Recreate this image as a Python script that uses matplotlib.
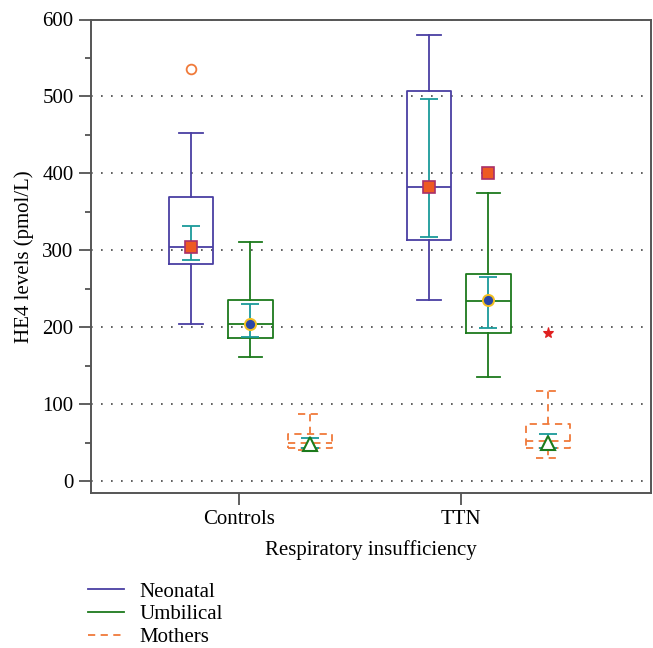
import matplotlib
matplotlib.use("Agg")
import matplotlib.pyplot as plt
from matplotlib.lines import Line2D

plt.rcParams['font.family'] = ['Liberation Serif', 'DejaVu Serif']
plt.rcParams['font.size'] = 15

groups = ["Controls", "TTN"]
series = ["Neonatal", "Umbilical", "Mothers"]

# Neonatal
neo_whislo = [204, 236]
neo_q1 = [283, 314]
neo_med = [304, 383]
neo_q3 = [370, 507]
neo_whishi = [452, 580]
neo_mean = [305, 383]
neo_ci_lo = [287, 318]
neo_ci_hi = [332, 497]
neo_fliers = [[536], []]

# Umbilical
umb_whislo = [162, 136]
umb_q1 = [186, 193]
umb_med = [204, 235]
umb_q3 = [236, 270]
umb_whishi = [311, 375]
umb_mean = [204, 236]
umb_ci_lo = [188, 199]
umb_ci_hi = [230, 266]
umb_fliers = [[], [400]]

# Mothers
mot_whislo = [41, 30]
mot_q1 = [44, 43]
mot_med = [50, 52]
mot_q3 = [61, 74]
mot_whishi = [87, 117]
mot_mean = [48, 50]
mot_ci_lo = [43, 44]
mot_ci_hi = [57, 61]
mot_fliers = [[], [193]]

yticks = [0, 100, 200, 300, 400, 500, 600]

# layout
group_start = [1.68, 5.68]
series_offset = [0.0, 1.0, 2.0]
tick_pos = [2.49, 6.22]

fig = plt.figure(figsize=(6.53, 6.48), dpi=100)
ax = fig.add_axes([91/653, 1-493/648, 560/653, (493-19.5)/648])

spec = [
    dict(name="Neonatal", color="#4a3fa3", ls="-",
         d=(neo_whislo, neo_q1, neo_med, neo_q3, neo_whishi, neo_mean, neo_ci_lo, neo_ci_hi, neo_fliers),
         mean_kw=dict(marker="s", ms=8, mfc="#ee5a22", mec="#a8306a", mew=1.2),
         flier_kw=dict(marker="o", ms=7, mfc="none", mec="#f07a3a", mew=1.3)),
    dict(name="Umbilical", color="#1c7a1c", ls="-",
         d=(umb_whislo, umb_q1, umb_med, umb_q3, umb_whishi, umb_mean, umb_ci_lo, umb_ci_hi, umb_fliers),
         mean_kw=dict(marker="o", ms=8, mfc="#2a46a8", mec="#f2c020", mew=1.4),
         flier_kw=dict(marker="s", ms=8, mfc="#ee5a22", mec="#a8306a", mew=1.2)),
    dict(name="Mothers", color="#f07a3a", ls=(0, (4, 3)),
         d=(mot_whislo, mot_q1, mot_med, mot_q3, mot_whishi, mot_mean, mot_ci_lo, mot_ci_hi, mot_fliers),
         mean_kw=dict(marker="^", ms=10, mfc="white", mec="#1c7a1c", mew=1.5),
         flier_kw=dict(marker="*", ms=8, mfc="#e02020", mec="#e02020", mew=0.8)),
]

teal = "#1a9a9a"
for si, s in enumerate(spec):
    wl, q1, md, q3, wh, mn, cl, ch, fl = s["d"]
    stats = []
    pos = []
    for gi in range(len(groups)):
        stats.append(dict(whislo=wl[gi], q1=q1[gi], med=md[gi], q3=q3[gi],
                          whishi=wh[gi], fliers=fl[gi], mean=mn[gi]))
        pos.append(group_start[gi] + series_offset[si])
    lp = dict(color=s["color"], linestyle=s["ls"], linewidth=1.3)
    ax.bxp(stats, positions=pos, widths=0.75, capwidths=0.39,
           boxprops=lp, whiskerprops=lp, capprops=lp, medianprops=lp,
           flierprops=dict(linestyle="none", **s["flier_kw"]),
           showmeans=False, manage_ticks=False, zorder=3)
    for gi in range(len(groups)):
        x = pos[gi]
        ax.errorbar([x], [mn[gi]], yerr=[[mn[gi] - cl[gi]], [ch[gi] - mn[gi]]],
                    fmt="none", ecolor=teal, elinewidth=1.3, capsize=6.8,
                    capthick=1.3, zorder=4)
        ax.plot([x], [mn[gi]], linestyle="none", zorder=5, **s["mean_kw"])

ax.set_xlim(0, 560/59.5)
ax.set_ylim(-15, 600)
ax.set_yticks(yticks)
ax.set_yticks([50, 150, 250, 350, 450, 550], minor=True)
ax.set_xticks(tick_pos)
ax.set_xticklabels(groups)
ax.yaxis.grid(True, which="major", linestyle=(0, (1, 5)), color="#444444", linewidth=1.2)
ax.set_axisbelow(True)
for sp in ax.spines.values():
    sp.set_color("#555555")
    sp.set_linewidth(1.4)
ax.tick_params(axis="both", which="major", direction="out", length=8.5, width=1.2,
               color="#444444", labelsize=15, pad=4)
ax.tick_params(axis="y", which="minor", direction="out", length=4, width=1.2, color="#444444")
ax.set_ylabel("HE4 levels (pmol/L)", fontsize=15, labelpad=6)
ax.set_xlabel("Respiratory insufficiency", fontsize=15, labelpad=8)

handles = [Line2D([], [], color=s["color"], linestyle=s["ls"], linewidth=1.3) for s in spec]
fig.legend(handles, [s["name"] for s in spec], loc="upper left",
           bbox_to_anchor=(88/653, 1-582/648), frameon=False, handlelength=1.75,
           labelspacing=0.15, fontsize=15, handletextpad=0.7, borderaxespad=0.0,
           borderpad=0.0)

fig.savefig("out.png", dpi=100)
